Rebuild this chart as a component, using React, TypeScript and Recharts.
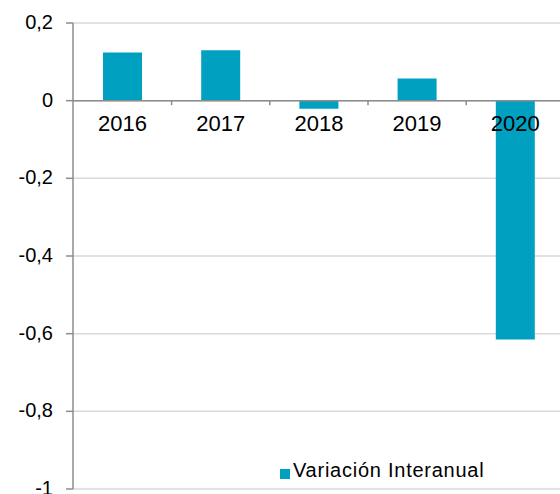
import { BarChart, Bar, XAxis, YAxis, CartesianGrid, ReferenceLine, LabelList, Legend } from 'recharts';

const years = ['2016', '2017', '2018', '2019', '2020'];
const variacion = [0.124, 0.13, -0.021, 0.057, -0.615];
const yTicks = [0.2, 0, -0.2, -0.4, -0.6, -0.8, -1];

const data = years.map((year, i) => ({ year, variacion: variacion[i] }));

const FONT = '"Liberation Sans", Arial, sans-serif';
const AXIS_GREY = '#8c8c8c';
const BAR_COLOR = '#00a0c1';

const CHART_W = 573;
const MARGIN = { top: 23, right: 9, left: 0, bottom: 5 };
const Y_AXIS_W = 73;
const BAND = (CHART_W - MARGIN.left - MARGIN.right - Y_AXIS_W) / years.length;

const fmt = (v: number) => (v === 0 ? '0' : String(v).replace('.', ','));

const YTick = (props: any) => {
  const { x, y, payload } = props;
  return (
    <text x={x} y={y + 6} textAnchor="end" fontSize={20} fontFamily={FONT} fill="#000">
      {fmt(payload.value)}
    </text>
  );
};

// year labels sit just under the zero line, with small ticks between categories
const YearLabel = (props: any) => {
  const vb = props.viewBox ?? props;
  const { x, y, width, height } = vb;
  const value = data[props.index]?.variacion ?? 0;
  const zeroY = height < 0 || value >= 0 ? y + height : y;
  const cx = x + width / 2;
  return (
    <g>
      {props.index < years.length - 1 && (
        <line x1={cx + BAND / 2} x2={cx + BAND / 2} y1={zeroY} y2={zeroY + 4.5} stroke={AXIS_GREY} strokeWidth={1.5} />
      )}
      <text x={cx} y={zeroY + 30.5} textAnchor="middle" fontSize={22} fontFamily={FONT} fill="#000">
        {years[props.index]}
      </text>
    </g>
  );
};

const LegendBox = () => (
  <div style={{ fontFamily: FONT, fontSize: 20, lineHeight: '24px', letterSpacing: 0.75, color: '#000', whiteSpace: 'nowrap' }}>
    <span style={{ display: 'inline-block', width: 10, height: 10, background: BAR_COLOR, marginRight: 3, verticalAlign: -2 }} />
    Variación Interanual
  </div>
);

export default function App() {
  return (
    <div style={{ position: 'absolute', left: 0, top: 0, width: 560, height: 494, overflow: 'hidden', background: '#fff' }}>
      <BarChart width={CHART_W} height={494} data={data} margin={MARGIN}>
        <CartesianGrid vertical={false} stroke="#d9d9d9" strokeWidth={1.5} />
        <XAxis dataKey="year" hide />
        <YAxis
          domain={[-1, 0.2]}
          ticks={yTicks}
          width={Y_AXIS_W}
          tickSize={7}
          tickMargin={13}
          axisLine={{ stroke: AXIS_GREY, strokeWidth: 1.5 }}
          tickLine={{ stroke: AXIS_GREY, strokeWidth: 1.5 }}
          tick={<YTick />}
          interval={0}
        />
        <ReferenceLine y={0} stroke={AXIS_GREY} strokeWidth={1.5} />
        <Legend
          layout="horizontal"
          verticalAlign="middle"
          align="center"
          content={<LegendBox />}
          wrapperStyle={{ left: 280, top: 458, width: 'auto' }}
        />
        <Bar dataKey="variacion" fill={BAR_COLOR} barSize={39} isAnimationActive={false}>
          <LabelList dataKey="variacion" content={<YearLabel />} />
        </Bar>
      </BarChart>
    </div>
  );
}
